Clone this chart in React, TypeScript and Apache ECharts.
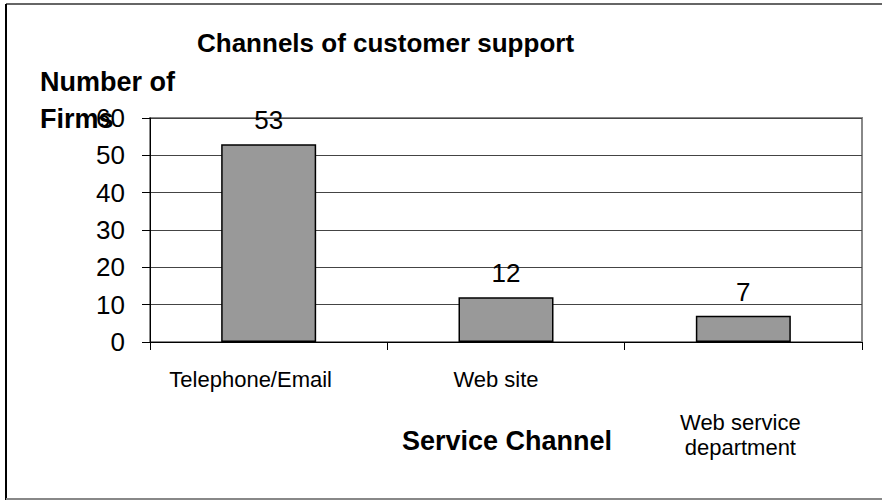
import React, { useEffect, useRef } from "react";
import * as echarts from "echarts";

const categories = ["Telephone/Email", "Web site", "Web service department"];
const firms = [53, 12, 7];
const yTicks = [0, 10, 20, 30, 40, 50, 60];
const chartTitle = "Channels of customer support";
const yName = "Number of\nFirms";
const xName = "Service Channel";

export default function App() {
  const ref = useRef<HTMLDivElement>(null);
  useEffect(() => {
    document.body.style.margin = "0";
    const chart = echarts.init(ref.current!, null, { renderer: "svg" });
    const font = "'Liberation Sans', Arial, sans-serif";
    chart.setOption({
      animation: false,
      backgroundColor: "#ffffff",
      textStyle: { fontFamily: font },
      title: {
        text: chartTitle,
        left: 192,
        top: 25,
        textStyle: { fontFamily: font, fontSize: 26, fontWeight: "bold", color: "#000" },
      },
      grid: {
        left: 150,
        top: 118,
        width: 712,
        height: 224,
        show: true,
        borderColor: "#888888",
        borderWidth: 2,
        backgroundColor: "transparent",
      },
      xAxis: {
        type: "category",
        data: categories,
        axisLine: { lineStyle: { color: "#000", width: 1 } },
        axisTick: { show: true, length: 8, lineStyle: { color: "#000" } },
        axisLabel: {
          interval: 0,
          margin: 25,
          color: "#000",
          fontSize: 22,
          formatter: (v: string, i: number) => {
            if (i === 0) return "{a|" + v + "}";
            if (i === 1) return "{b|" + v + "}";
            return "{s| }\n{c|Web service}\n{c|department}";
          },
          rich: {
            a: { fontSize: 22, lineHeight: 25, padding: [0, 36, 0, 0], color: "#000" },
            b: { fontSize: 22, lineHeight: 25, padding: [0, 20, 0, 0], color: "#000" },
            c: { fontSize: 22, lineHeight: 25, padding: [0, 6, 0, 0], color: "#000" },
            s: { fontSize: 10, lineHeight: 43 },
          },
        },
      },
      yAxis: {
        type: "value",
        min: yTicks[0],
        max: yTicks[yTicks.length - 1],
        interval: yTicks[1] - yTicks[0],
        axisLine: { show: true, lineStyle: { color: "#000", width: 1 } },
        axisTick: { show: true, length: 8, lineStyle: { color: "#000" } },
        axisLabel: { fontSize: 26, margin: 25, color: "#000" },
        splitLine: { lineStyle: { color: "#444", width: 1 } },
      },
      series: [
        {
          type: "bar",
          data: firms,
          barWidth: 95,
          itemStyle: { color: "#999999", borderColor: "#000", borderWidth: 1.5 },
          label: { show: true, position: "top", distance: 11, fontSize: 26, color: "#000" },
        },
      ],
      graphic: [
        {
          type: "line",
          shape: { x1: 6, y1: 4, x2: 882, y2: 4 },
          style: { stroke: "#333", lineWidth: 1.5 },
        },
        {
          type: "line",
          shape: { x1: 6, y1: 4, x2: 6, y2: 500 },
          style: { stroke: "#000", lineWidth: 2 },
        },
        {
          type: "line",
          shape: { x1: 6, y1: 499, x2: 882, y2: 499 },
          style: { stroke: "#888", lineWidth: 2 },
        },
        {
          type: "text",
          left: 40,
          top: 63,
          style: {
            text: yName,
            fontFamily: font,
            fontSize: 27,
            fontWeight: "bold",
            lineHeight: 37,
            fill: "#000",
          },
        },
        {
          type: "text",
          x: 507,
          y: 441,
          style: {
            text: xName,
            fontFamily: font,
            fontSize: 27,
            fontWeight: "bold",
            fill: "#000",
            align: "center",
            verticalAlign: "middle",
          },
        },
      ],
    });
    return () => chart.dispose();
  }, []);
  return <div ref={ref} style={{ width: 882, height: 501 }} />;
}
